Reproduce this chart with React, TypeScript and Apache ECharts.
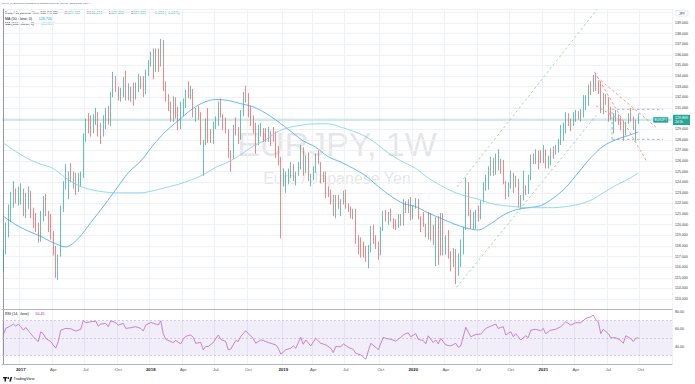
import React, { useEffect, useRef } from "react";
import * as echarts from "echarts";

// Weekly EURJPY candles, one row per week starting Mon 14 Nov 2016: [open, close, low, high]
const ohlc2016 = [
  [115.8, 117.4, 115.5, 117.7], [117.4, 119.7, 117.2, 120.2], [119.7, 121.0, 118.8, 121.9],
  [121.0, 121.8, 120.3, 123.1], [121.8, 123.2, 121.6, 124.1], [123.2, 122.6, 122.0, 123.4],
  [122.6, 122.9, 121.8, 123.6],
];
const ohlc2017 = [
  [122.9, 123.2, 121.9, 123.9], [123.2, 121.8, 120.8, 123.4], [121.8, 122.7, 120.6, 123.0],
  [122.7, 123.0, 121.5, 123.6], [123.0, 121.4, 120.6, 123.2], [121.4, 120.4, 119.7, 121.6],
  [120.4, 119.8, 119.3, 121.1], [119.8, 118.6, 118.3, 120.2], [118.6, 121.1, 118.4, 121.3],
  [121.1, 122.4, 120.3, 122.7], [122.4, 121.0, 120.8, 122.9], [121.0, 120.3, 119.3, 121.3],
  [120.3, 118.8, 118.6, 121.0], [118.8, 117.7, 117.1, 119.4], [117.7, 115.3, 115.0, 118.0],
  [115.3, 116.9, 114.8, 117.2], [117.1, 121.4, 117.0, 121.8], [121.4, 123.9, 121.2, 124.1],
  [123.9, 124.0, 123.3, 125.7], [124.0, 124.6, 122.4, 125.0], [124.6, 124.4, 124.0, 125.8],
  [124.4, 124.5, 123.4, 125.0], [124.5, 123.4, 122.8, 124.9], [123.4, 124.2, 123.1, 124.9],
  [124.2, 124.6, 123.6, 125.0], [124.6, 128.4, 124.4, 128.6], [128.4, 129.8, 127.8, 130.0],
  [129.8, 129.1, 128.6, 130.5], [129.1, 128.9, 128.3, 130.3], [128.9, 130.1, 128.6, 130.4],
  [130.1, 130.4, 129.4, 131.0], [130.4, 129.0, 128.3, 130.6], [129.0, 128.4, 127.6, 129.6],
  [128.4, 129.8, 128.3, 130.3], [129.8, 130.6, 129.0, 131.0], [130.6, 129.8, 129.4, 131.2],
  [129.8, 132.3, 129.3, 132.5], [132.3, 133.8, 132.0, 134.4], [133.8, 132.8, 132.5, 134.0],
  [132.8, 132.1, 131.7, 133.0], [132.1, 132.3, 131.6, 132.9], [132.3, 133.7, 132.0, 133.9],
  [133.7, 132.2, 131.7, 134.5], [132.2, 132.6, 131.7, 133.3], [132.6, 132.3, 131.6, 133.0],
  [132.3, 132.1, 131.2, 133.4], [132.1, 133.0, 131.8, 133.4], [133.0, 133.5, 132.5, 134.2],
  [133.5, 133.4, 132.8, 134.0], [133.4, 132.4, 132.0, 134.0], [132.4, 134.3, 132.3, 134.6],
  [134.3, 135.2, 134.0, 135.5],
];
const ohlc2018 = [
  [135.2, 135.9, 134.9, 136.3], [135.9, 135.4, 133.7, 136.6], [135.4, 135.5, 134.4, 136.6],
  [135.5, 135.1, 134.4, 136.6], [135.1, 137.3, 134.9, 137.5], [137.3, 133.3, 132.6, 137.4],
  [133.3, 131.9, 131.6, 133.5], [131.9, 131.4, 130.7, 132.3], [131.4, 130.2, 129.7, 131.6],
  [130.2, 131.5, 129.7, 132.1], [131.5, 130.3, 130.0, 132.0], [130.3, 129.3, 128.9, 131.1],
  [129.3, 130.9, 129.0, 131.6], [130.9, 131.3, 130.2, 131.9], [131.3, 132.4, 131.0, 132.7],
  [132.4, 132.1, 131.9, 133.5], [132.1, 132.3, 131.8, 133.1], [132.3, 130.5, 130.1, 132.8],
  [130.5, 130.6, 129.7, 131.0], [130.6, 130.4, 129.9, 131.2], [130.4, 127.6, 127.5, 130.6],
  [127.6, 127.7, 124.6, 128.0], [127.7, 128.9, 127.5, 130.0], [128.9, 128.4, 127.7, 131.0],
  [128.4, 128.3, 127.7, 129.0], [128.3, 129.4, 127.6, 129.7], [129.4, 129.7, 129.0, 130.2],
  [129.7, 131.3, 129.3, 131.6], [131.3, 130.6, 130.1, 131.9], [130.6, 129.4, 128.9, 130.4],
  [129.4, 128.7, 128.6, 130.1], [128.7, 126.5, 126.3, 129.0], [126.5, 126.4, 125.0, 127.0],
  [126.4, 129.2, 126.2, 129.4], [129.2, 128.8, 128.4, 130.1], [128.8, 128.3, 127.6, 129.2],
  [128.3, 130.2, 128.0, 130.8], [130.2, 132.3, 130.2, 132.5], [132.3, 131.9, 131.5, 133.1],
  [131.9, 131.0, 130.1, 132.4], [131.0, 129.7, 129.3, 131.2], [129.7, 129.5, 128.6, 130.3],
  [129.5, 127.6, 126.7, 129.6], [127.6, 128.8, 127.5, 129.4], [128.8, 128.9, 128.3, 129.6],
  [128.9, 128.7, 127.8, 129.1], [128.7, 128.0, 127.8, 129.1], [128.0, 128.4, 127.8, 129.2],
  [128.4, 128.2, 127.4, 128.8], [128.2, 128.1, 127.8, 129.2], [128.1, 126.4, 126.3, 128.8],
  [126.4, 126.2, 125.6, 127.4],
];
const ohlc2019 = [
  [126.2, 123.7, 118.7, 126.4], [123.7, 124.5, 123.6, 125.3], [124.5, 124.7, 123.0, 125.0],
  [124.7, 125.0, 123.8, 125.3], [125.0, 125.4, 124.4, 125.9], [125.4, 124.3, 124.1, 125.7],
  [124.3, 124.8, 123.7, 125.0], [124.8, 125.4, 124.6, 125.9], [125.4, 127.2, 125.2, 127.5],
  [127.2, 124.9, 124.6, 127.3], [124.9, 126.3, 124.9, 126.5], [126.3, 124.2, 124.1, 126.8],
  [124.2, 124.4, 123.6, 124.8], [124.4, 125.3, 124.2, 125.5], [125.3, 126.6, 124.9, 126.7],
  [126.6, 125.8, 125.7, 127.0], [125.8, 124.4, 123.9, 125.9], [124.4, 124.6, 124.0, 125.0],
  [124.6, 123.4, 122.5, 125.0], [123.4, 122.9, 122.6, 123.6], [122.9, 122.5, 121.9, 123.3],
  [122.5, 120.9, 120.8, 122.8], [120.9, 122.6, 120.6, 122.8], [122.6, 121.7, 121.5, 122.8],
  [121.7, 122.1, 120.8, 122.4], [122.1, 122.7, 121.9, 123.2], [122.7, 121.7, 121.5, 123.3],
  [121.7, 121.6, 121.2, 122.0], [121.6, 120.8, 120.6, 121.7], [120.8, 121.0, 120.5, 121.5],
  [121.0, 118.4, 118.2, 121.5], [118.4, 118.2, 117.2, 119.0], [118.2, 118.0, 116.9, 118.8],
  [118.0, 117.4, 116.9, 118.4], [117.4, 116.8, 116.5, 118.0], [116.8, 117.9, 115.9, 118.1],
  [117.9, 119.7, 117.4, 119.9], [119.7, 118.6, 118.2, 120.0], [118.6, 118.0, 117.7, 119.0],
  [118.0, 117.4, 116.7, 118.4], [117.4, 119.6, 117.1, 119.8], [119.6, 121.1, 119.4, 121.3],
  [121.1, 120.4, 120.3, 121.4], [120.4, 120.9, 120.0, 121.2], [120.9, 120.4, 120.3, 121.5],
  [120.4, 120.2, 119.6, 120.6], [120.2, 119.8, 119.5, 120.5], [119.8, 120.7, 119.7, 121.0],
  [120.7, 120.1, 119.9, 121.0], [120.1, 121.7, 119.9, 122.4], [121.7, 121.3, 121.1, 122.2],
  [121.3, 122.1, 121.1, 122.4],
];
const ohlc2020 = [
  [122.1, 120.6, 120.4, 122.6], [120.6, 121.6, 120.5, 121.8], [121.6, 122.1, 121.5, 122.5],
  [122.1, 120.6, 120.5, 122.4], [120.6, 120.2, 119.3, 120.8], [120.2, 120.0, 119.8, 121.2],
  [120.0, 118.9, 118.8, 120.1], [118.9, 120.6, 118.6, 121.2], [120.6, 119.1, 118.5, 121.1],
  [119.1, 118.9, 118.1, 120.0], [118.9, 119.9, 116.1, 120.7], [119.9, 118.3, 116.2, 120.8],
  [118.3, 120.2, 117.1, 121.1], [120.2, 117.3, 117.1, 121.1], [117.3, 118.7, 117.2, 119.0],
  [118.7, 116.9, 116.8, 119.5], [116.9, 116.3, 115.6, 117.5], [116.3, 117.5, 116.0, 117.8],
  [117.5, 115.6, 114.4, 117.7], [115.6, 116.3, 115.2, 117.3], [116.3, 117.3, 116.0, 118.6],
  [117.3, 119.7, 117.2, 119.8], [119.7, 123.7, 119.5, 124.4], [123.7, 121.0, 120.8, 124.0],
  [121.0, 119.7, 119.6, 121.4], [119.7, 120.2, 119.6, 121.2], [120.2, 121.0, 119.6, 121.4],
  [121.0, 120.8, 120.3, 121.8], [120.8, 122.2, 120.5, 122.3], [122.2, 123.7, 122.1, 124.0],
  [123.7, 124.6, 123.2, 124.7], [124.6, 124.8, 123.3, 125.5], [124.8, 126.1, 124.6, 126.4],
  [126.1, 124.8, 124.6, 126.3], [124.8, 125.6, 124.7, 126.7], [125.6, 125.8, 125.1, 127.1],
  [125.8, 125.7, 124.8, 126.2], [125.7, 123.9, 123.8, 126.1], [123.9, 122.8, 122.4, 124.1],
  [122.8, 123.4, 122.6, 124.0], [123.4, 124.9, 123.4, 125.1], [124.9, 123.5, 123.0, 124.9],
  [123.5, 124.2, 123.5, 124.6], [124.2, 122.0, 121.6, 124.3], [122.0, 122.6, 121.6, 122.8],
  [122.6, 123.5, 122.3, 125.1], [123.5, 123.1, 122.8, 123.7], [123.1, 124.5, 122.9, 124.7],
  [124.5, 126.3, 124.2, 126.6], [126.3, 126.0, 125.7, 126.7], [126.0, 126.6, 125.7, 127.1],
  [126.6, 126.3, 125.2, 127.0],
];
const ohlc2021 = [
  [126.3, 126.2, 125.8, 127.0], [126.2, 127.0, 125.8, 127.5], [127.0, 125.6, 125.3, 127.1],
  [125.6, 126.3, 125.3, 126.5], [126.3, 127.1, 125.6, 127.2], [127.1, 127.0, 126.2, 127.4],
  [127.0, 127.1, 126.6, 127.5], [127.1, 127.8, 126.8, 128.1], [127.8, 128.8, 127.5, 129.4],
  [128.8, 129.0, 127.9, 129.6], [129.0, 130.3, 128.6, 130.6], [130.3, 129.7, 129.3, 130.5],
  [129.7, 129.4, 128.8, 130.0], [129.4, 130.1, 129.3, 130.6], [130.1, 130.5, 129.7, 130.8],
  [130.5, 130.3, 129.9, 130.7], [130.3, 130.5, 129.7, 130.9], [130.5, 131.4, 130.1, 132.2],
  [131.4, 132.1, 130.8, 132.2], [132.1, 132.9, 131.2, 133.2], [132.9, 132.7, 132.2, 133.5],
  [132.7, 133.9, 132.5, 134.1], [133.9, 133.3, 132.6, 134.3], [133.3, 132.8, 132.3, 133.6],
  [132.8, 130.8, 130.5, 133.5], [130.8, 132.1, 130.4, 132.4], [132.1, 131.7, 131.3, 132.3],
  [131.7, 130.7, 129.7, 132.0], [130.7, 130.0, 129.9, 131.1], [130.0, 130.1, 128.6, 130.5],
  [130.1, 130.2, 129.7, 130.8], [130.2, 129.6, 129.4, 130.4], [129.6, 129.3, 128.9, 130.1],
  [129.3, 128.4, 127.9, 129.8], [128.4, 129.6, 128.4, 129.7], [129.6, 130.3, 129.5, 130.5],
  [130.3, 129.8, 129.7, 131.0], [129.8, 129.0, 128.9, 130.2], [129.0, 129.7, 127.9, 129.9],
  [129.743, 129.869, 129.482, 130.474],
];

// Moving averages every 5 weeks (week index, value)
const maWeeks = [0,5,10,15,20,25,30,35,40,45,50,55,60,65,70,75,80,85,90,95,100,105,110,115,120,125,130,135,140,145,150,155,160,165,170,175,180,185,190,195,200,205,210,215,220,225,230,235,240,245,250,254];
const ma50 = [120.8,120.0,119.4,118.9,118.3,117.9,118.7,120.2,121.7,123.3,124.9,126.0,127.5,128.8,129.8,130.8,131.5,131.8,131.7,131.4,131.1,130.5,129.7,128.8,127.9,127.3,126.4,125.9,125.3,124.6,123.6,122.7,122.0,121.7,121.1,120.6,120.1,119.7,119.5,120.1,120.9,121.4,121.6,121.8,122.5,123.5,124.9,126.3,127.4,128.0,128.4,128.726];
const ma100 = [127.7,126.9,126.2,125.7,125.3,124.4,123.7,123.3,123.1,123.0,123.0,123.0,123.2,123.5,123.8,124.2,124.7,125.4,125.9,126.6,127.4,128.0,128.8,129.2,129.4,129.5,129.5,129.2,128.8,128.3,127.5,126.6,125.9,125.3,124.4,123.7,123.1,122.7,122.4,122.0,121.8,121.7,121.6,121.6,121.6,121.7,121.9,122.3,123.0,123.7,124.3,124.864];

// RSI(14) (week index, value)
const rsiWeeks = [0,1,3,4,5,6,7,8,9,11,12,13,14,15,16,17,19,20,21,22,23,25,27,29,31,32,33,35,37,38,39,41,42,43,45,46,48,49,51,53,55,56,57,59,61,62,63,64,65,67,68,69,71,72,73,75,76,77,79,80,81,82,84,86,87,89,90,91,93,94,95,97,98,100,101,103,104,106,107,109,110,111,113,115,116,117,119,120,121,123,125,127,129,131,132,133,135,136,138,140,141,143,145,147,149,150,152,153,155,157,159,160,161,162,163,165,166,168,169,170,172,173,174,175,177,179,181,182,183,185,187,189,191,193,195,197,198,200,201,203,204,205,207,209,210,211,213,215,216,217,219,221,223,225,227,229,231,233,235,236,237,238,239,240,242,243,245,247,248,249,251,252,253,254];
const rsiValues = [53.5,61,64,66,63.5,66,63,59,62,55,51.5,48.5,46,57,55,49.6,46,42,38.5,46,59,61,60.5,58,60,70,67.5,68.6,69.3,63.6,66,66.7,63,69.7,67.5,64.8,66.7,61,61.8,63,61,58,64.8,67.8,66,64.8,69.7,55,48.5,46,44.9,47.2,43.4,48.5,52,53.5,50.8,44,45,36.6,40.4,40.4,44.9,53.5,48.5,46,36.6,37.4,47.2,46,51.8,58.3,55,49.6,44,47.8,47.2,44.9,44,42.2,38.4,31.6,36.6,38.4,41,38.4,50.8,42.9,47.8,41,49.6,44,42.2,38.4,33.4,40.4,40,43.4,39.5,37,32.6,30.7,25.9,44,39.5,36.6,50.8,49.6,48.5,46.5,50.8,53.5,55,56,51.5,55,48.5,47.2,43.4,52.6,44.9,47.8,43.4,49.6,42.2,41,44,39.5,41,62.3,51.5,54.1,54.5,61,63.6,66,61,63,53.5,57.2,51.5,55,47.8,52.6,50.4,59,60,58.3,61,55,59,60,63,68.6,64.8,67.5,67.5,72.4,74.3,76.2,71,68.6,55,60,55,50.4,50.4,47.2,44,52.6,49.6,46,49.6,50.45];

// Time axis: week index of the first bar of each quarter, and its label
const quarterWeeks = [7, 20, 33, 46, 59, 72, 85, 98, 112, 124, 137, 151, 164, 177, 190, 203, 216, 229, 242, 255];
const quarterLabels = ["2017", "Apr", "Jul", "Oct", "2018", "Apr", "Jul", "Oct", "2019", "Apr", "Jul", "Oct", "2020", "Apr", "Jul", "Oct", "2021", "Apr", "Jul", "Oct"];

// Drawings on the chart: [[week, price], [week, price]]
const greenChannel = [
  [[181.5, 123.55], [237.6, 140.3]],
  [[181.3, 114.1], [237.2, 130.3]],
];
const redLines = [
  [[236.5, 134.4], [257.3, 126.0]],
  [[237.5, 133.9], [261.0, 129.2]],
  [[237.1, 131.2], [247.1, 129.8]],
];
const boxTop = 130.87;
const boxBottom = 128.04;
const boxWeeks = [243.5, 263.9];

const lastPrice = 129.869;
const TOTAL_WEEKS = 268; // bars plus empty future space on the right

const UP = "#26a69a";
const DOWN = "#ef5350";
const FONT = "'Liberation Sans', Arial, sans-serif";

export default function App() {
  const ref = useRef<HTMLDivElement>(null);
  useEffect(() => {
    if (!ref.current) return;
    const chart = echarts.init(ref.current, null, { renderer: "svg" });
    const candles = [...ohlc2016, ...ohlc2017, ...ohlc2018, ...ohlc2019, ...ohlc2020, ...ohlc2021];
    const cats = Array.from({ length: TOTAL_WEEKS }, (_, i) => String(i));
    const qSet = new Set(quarterWeeks);
    const qMap = new Map(quarterWeeks.map((w, i) => [w, quarterLabels[i]]));
    const isYear = (s: string) => /^\d{4}$/.test(s);

    const ma50Data = maWeeks.map((w, i) => [w, ma50[i]]);
    const ma100Data = maWeeks.map((w, i) => [w, ma100[i]]);
    const rsiData = rsiWeeks.map((w, i) => [w, rsiValues[i]]);

    const seg = (pts: number[][][], color: string) =>
      pts.map((p) => ({
        type: "line",
        xAxisIndex: 2,
        yAxisIndex: 0,
        data: p,
        showSymbol: false,
        silent: true,
        lineStyle: { color, width: 0.9, type: [2.5, 2.5] },
        z: 4,
      }));

    const gridLineColor = "#eef1f6";
    const vSplit = {
      show: true,
      interval: (idx: number) => qSet.has(idx),
      lineStyle: { color: gridLineColor, width: 1 },
    };

    const option: any = {
      animation: false,
      backgroundColor: "#ffffff",
      textStyle: { fontFamily: FONT },
      grid: [
        { left: 2, right: 23, top: 9, height: 300.6 },
        { left: 2, right: 23, top: 309.6, height: 54.7 },
      ],
      xAxis: [
        {
          type: "category", gridIndex: 0, data: cats, boundaryGap: true,
          axisLine: { show: true, lineStyle: { color: "#b2b5be", width: 1 } },
          axisTick: { show: false }, axisLabel: { show: false }, splitLine: vSplit,
        },
        {
          type: "category", gridIndex: 1, data: cats, boundaryGap: true,
          axisLine: { show: true, lineStyle: { color: "#b2b5be", width: 1 } },
          axisTick: { show: false },
          axisLabel: {
            show: true,
            interval: (idx: number) => qSet.has(idx),
            formatter: (_v: string, idx: number) => {
              const s = qMap.get(idx) || "";
              return isYear(s) ? `{y|${s}}` : `{m|${s}}`;
            },
            rich: {
              y: { fontSize: 4.3, color: "#131722", fontWeight: "bold", fontFamily: FONT },
              m: { fontSize: 4.3, color: "#50535e", fontFamily: FONT },
            },
            margin: 3,
          },
          splitLine: vSplit,
        },
        { type: "value", gridIndex: 0, min: -0.5, max: TOTAL_WEEKS - 0.5, show: false },
        { type: "value", gridIndex: 1, min: -0.5, max: TOTAL_WEEKS - 0.5, show: false },
      ],
      yAxis: [
        {
          type: "value", gridIndex: 0, position: "right", min: 112, max: 140.32, interval: 1,
          axisLine: { show: true, lineStyle: { color: "#9598a1", width: 1 } },
          axisTick: { show: false },
          axisLabel: {
            formatter: (v: number) =>
              Math.abs(v - Math.round(v)) < 1e-6 && v >= 113 && v <= 139 ? v.toFixed(3) : "",
            fontSize: 3.6, color: "#363a45", margin: 3, align: "left",
          },
          splitLine: { show: true, lineStyle: { color: gridLineColor, width: 1 } },
        },
        {
          type: "value", gridIndex: 1, position: "right", min: 20, max: 82.5, interval: 20,
          axisLine: { show: true, lineStyle: { color: "#9598a1", width: 1 } },
          axisTick: { show: false },
          axisLabel: {
            formatter: (v: number) => (v === 40 || v === 60 || v === 80 ? v.toFixed(2) : ""),
            fontSize: 3.6, color: "#363a45", margin: 3, align: "left",
          },
          splitLine: { show: false },
        },
      ],
      series: [
        {
          type: "candlestick",
          xAxisIndex: 0, yAxisIndex: 0,
          data: candles,
          barWidth: 1.1,
          itemStyle: { color: UP, color0: DOWN, borderColor: UP, borderColor0: DOWN, borderWidth: 0.7 },
          z: 3,
          markLine: {
            silent: true, symbol: "none", animation: false,
            data: [
              {
                yAxis: lastPrice,
                lineStyle: { color: "rgba(38,166,154,0.22)", width: 2, type: "solid" },
                label: {
                  show: true, position: "end", distance: 1,
                  formatter: "{p|129.869}\n{t|2d 5h}",
                  backgroundColor: UP, padding: [0.8, 2, 0.8, 2], borderRadius: 0.5,
                  rich: {
                    p: { fontSize: 3.6, color: "#ffffff", fontFamily: FONT, lineHeight: 4.6 },
                    t: { fontSize: 3.2, color: "#ffffff", fontFamily: FONT, lineHeight: 4.2 },
                  },
                },
              },
            ],
          },
          markPoint: {
            silent: true,
            data: [
              {
                coord: [String(263), lastPrice],
                symbol: "rect", symbolSize: [15, 5.5],
                itemStyle: { color: UP },
                label: { show: true, formatter: "EURJPY", color: "#fff", fontSize: 3.2, fontFamily: FONT },
              },
            ],
          },
        },
        {
          type: "line", name: "MA50", xAxisIndex: 2, yAxisIndex: 0, data: ma50Data,
          showSymbol: false, smooth: 0.3, silent: true,
          lineStyle: { color: "#2196f3", width: 0.8, opacity: 0.85 }, z: 5,
        },
        {
          type: "line", name: "MA100", xAxisIndex: 2, yAxisIndex: 0, data: ma100Data,
          showSymbol: false, smooth: 0.3, silent: true,
          lineStyle: { color: "#6fcdf0", width: 0.8, opacity: 0.95 }, z: 5,
        },
        ...seg(greenChannel, "#9dd49f"),
        ...seg(redLines, "#f28b87"),
        {
          type: "line", xAxisIndex: 2, yAxisIndex: 0, silent: true, showSymbol: false,
          data: [[boxWeeks[0], boxTop], [boxWeeks[1], boxTop]],
          lineStyle: { color: "#a9abb3", width: 0.9, type: [2.5, 2.5] }, z: 4,
        },
        {
          type: "line", xAxisIndex: 2, yAxisIndex: 0, silent: true, showSymbol: false,
          data: [[boxWeeks[0], boxBottom], [boxWeeks[1], boxBottom]],
          lineStyle: { color: "#a9abb3", width: 0.9, type: [2.5, 2.5] }, z: 4,
        },
        {
          type: "line", xAxisIndex: 2, yAxisIndex: 0, silent: true, showSymbol: false,
          data: [[boxWeeks[0], boxBottom], [boxWeeks[0], boxTop]],
          lineStyle: { color: "#a9abb3", width: 0.9, type: [2.5, 2.5] }, z: 4,
        },
        {
          type: "line", name: "RSI", xAxisIndex: 3, yAxisIndex: 1, data: rsiData,
          showSymbol: false, silent: true,
          lineStyle: { color: "#ba68c8", width: 0.8 }, z: 5,
          markArea: {
            silent: true,
            itemStyle: { color: "rgba(126,87,194,0.1)" },
            data: [[{ yAxis: 30 }, { yAxis: 70 }]],
          },
          markLine: {
            silent: true, symbol: "none", label: { show: false },
            lineStyle: { color: "#c3b8d8", width: 0.7, type: [2, 2] },
            data: [{ yAxis: 70 }, { yAxis: 50 }, { yAxis: 30 }],
          },
        },
      ],
      graphic: [
        {
          type: "text", x: 337, y: 144, silent: true, z: 0,
          style: { text: "EURJPY, 1W", fill: "rgba(120,123,134,0.2)", fontSize: 34, fontFamily: FONT, align: "center", verticalAlign: "middle" },
        },
        {
          type: "text", x: 337, y: 178, silent: true, z: 0,
          style: { text: "Euro / Japanese Yen", fill: "rgba(120,123,134,0.2)", fontSize: 16, fontFamily: FONT, align: "center", verticalAlign: "middle" },
        },
        {
          type: "text", x: 2, y: 3.6, silent: true,
          style: { text: "Meyer_of_Bmlatiom published on TradingView.com, Sep 29, 2021 12:08 UTC-4", fill: "#50535e", fontSize: 2.5, fontFamily: FONT, verticalAlign: "middle" },
        },
        {
          type: "text", x: 5, y: 13.2, silent: true,
          style: {
            text: "{a|Euro / Japanese Yen, 1W, FXCM}  {a|O}{v|129.743}  {a|H}{v|130.474}  {a|L}{v|129.482}  {a|C}{v|129.869}  {v|\u22120.083 (\u22120.06%)}",
            verticalAlign: "middle",
            rich: {
              a: { fontSize: 3.6, fill: "#131722", fontFamily: FONT },
              v: { fontSize: 3.6, fill: UP, fontFamily: FONT },
            },
          },
        },
        {
          type: "text", x: 5, y: 18.7, silent: true,
          style: {
            text: "{a|MA (50, close, 0)}  {v|128.726}", verticalAlign: "middle",
            rich: { a: { fontSize: 3.6, fill: "#131722", fontFamily: FONT }, v: { fontSize: 3.6, fill: "#2196f3", fontFamily: FONT } },
          },
        },
        {
          type: "text", x: 5, y: 24.2, silent: true,
          style: {
            text: "{a|MA (100, close, 0)}  {v|124.864}", verticalAlign: "middle",
            rich: { a: { fontSize: 3.6, fill: "#131722", fontFamily: FONT }, v: { fontSize: 3.6, fill: "#4fc3f7", fontFamily: FONT } },
          },
        },
        {
          type: "text", x: 5, y: 314, silent: true,
          style: {
            text: "{a|RSI (14, close)}  {v|50.45}", verticalAlign: "middle",
            rich: { a: { fontSize: 3.6, fill: "#131722", fontFamily: FONT }, v: { fontSize: 3.6, fill: "#9c27b0", fontFamily: FONT } },
          },
        },
        {
          type: "rect", shape: { x: 676, y: 10.5, width: 12, height: 5.5, r: 0.8 }, silent: true,
          style: { fill: "#ffffff", stroke: "#d1d4dc", lineWidth: 0.5 },
        },
        {
          type: "text", x: 682, y: 13.3, silent: true,
          style: { text: "JPY", fill: "#131722", fontSize: 3.2, fontFamily: FONT, align: "center", verticalAlign: "middle" },
        },
        { type: "rect", shape: { x: 3, y: 377, width: 4.2, height: 1.4 }, style: { fill: "#131722" }, silent: true },
        { type: "rect", shape: { x: 4.5, y: 377, width: 1.5, height: 4.5 }, style: { fill: "#131722" }, silent: true },
        { type: "circle", shape: { cx: 8.3, cy: 378, r: 0.8 }, style: { fill: "#131722" }, silent: true },
        { type: "polygon", shape: { points: [[9.2, 381.5], [10.6, 377], [12.2, 377], [10.8, 381.5]] }, style: { fill: "#131722" }, silent: true },
        {
          type: "text", x: 13.5, y: 379.3, silent: true,
          style: { text: "TradingView", fill: "#131722", fontSize: 3.8, fontFamily: FONT, verticalAlign: "middle" },
        },
      ],
    };
    chart.setOption(option);
    return () => chart.dispose();
  }, []);
  return (
    <div
      ref={ref}
      style={{ position: "absolute", left: 0, top: 0, width: 695, height: 384, background: "#fff" }}
    />
  );
}
